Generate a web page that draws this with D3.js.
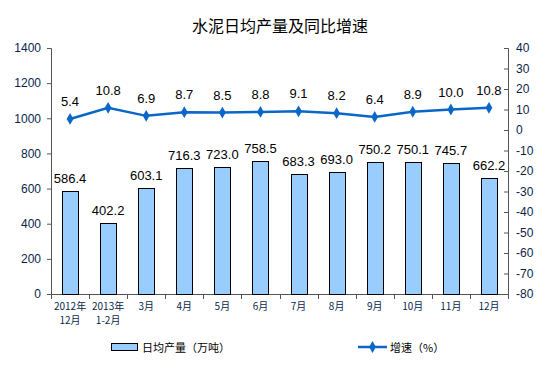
<!DOCTYPE html>
<html>
<head>
<meta charset="utf-8">
<script src="https://cdn.jsdelivr.net/npm/d3@7/dist/d3.min.js"></script>
<style>
  body { margin: 0; background: #fff; }
  text { font-family: "Liberation Sans", Arial, sans-serif; }
  .cjk { font-family: "Noto Sans CJK SC", sans-serif; }
</style>
</head>
<body>
<div id="chart"></div>
<script>
var months = [["2012年", "12月"], ["2013年", "1-2月"], ["3月"], ["4月"], ["5月"], ["6月"], ["7月"], ["8月"], ["9月"], ["10月"], ["11月"], ["12月"]];
var output = [586.4, 402.2, 603.1, 716.3, 723.0, 758.5, 683.3, 693.0, 750.2, 750.1, 745.7, 662.2];
var growth = [5.4, 10.8, 6.9, 8.7, 8.5, 8.8, 9.1, 8.2, 6.4, 8.9, 10.0, 10.8];
var leftTicks = [0, 200, 400, 600, 800, 1000, 1200, 1400];
var rightTicks = [40, 30, 20, 10, 0, -10, -20, -30, -40, -50, -60, -70, -80];

var width = 554, height = 383,
    pLeft = 51, pRight = 508, pTop = 48, pBottom = 294,
    axisColor = "#0a1f4c", lineColor = "#0a66c8";

var svg = d3.select("#chart").append("svg")
  .attr("width", width)
  .attr("height", height);

var x = d3.scaleBand().domain(d3.range(output.length)).range([pLeft, pRight]);
var y = d3.scaleLinear().domain([0, 1400]).range([pBottom, pTop]);
var y2 = d3.scaleLinear().domain([-80, 40]).range([pBottom, pTop]);

// title
svg.append("text")
  .attr("class", "cjk")
  .attr("x", 280).attr("y", 32)
  .attr("text-anchor", "middle")
  .attr("font-size", 16)
  .attr("fill", "#000")
  .text("水泥日均产量及同比增速");

// left axis
var gl = svg.append("g").attr("transform", "translate(" + pLeft + ",0)")
  .call(d3.axisLeft(y).tickValues(leftTicks).tickFormat(String).tickSize(4).tickPadding(6));
gl.selectAll("text").attr("font-size", 12).attr("fill", axisColor)
  .attr("font-family", "Liberation Sans, Arial, sans-serif");

// right axis
var gr = svg.append("g").attr("transform", "translate(" + pRight + ",0)")
  .call(d3.axisRight(y2).tickValues(rightTicks).tickFormat(String).tickSize(-4).tickPadding(8));
gr.selectAll("text").attr("font-size", 12).attr("fill", axisColor)
  .attr("font-family", "Liberation Sans, Arial, sans-serif");

svg.selectAll(".domain").attr("stroke", "#555");
svg.selectAll(".tick line").attr("stroke", "#555");

// x axis line and ticks
svg.append("line")
  .attr("x1", pLeft).attr("x2", pRight)
  .attr("y1", pBottom + 0.5).attr("y2", pBottom + 0.5)
  .attr("stroke", "#555");
svg.selectAll(".xtick")
  .data(d3.range(output.length + 1))
  .enter().append("line")
  .attr("x1", function(d) { return Math.round(pLeft + d * x.step()) + 0.5; })
  .attr("x2", function(d) { return Math.round(pLeft + d * x.step()) + 0.5; })
  .attr("y1", pBottom).attr("y2", pBottom + 5)
  .attr("stroke", "#555");

// x labels
var xl = svg.selectAll(".xlab")
  .data(months)
  .enter().append("text")
  .attr("class", "cjk")
  .attr("text-anchor", "middle")
  .attr("font-size", 10)
  .attr("fill", axisColor)
  .attr("x", function(d, i) { return x(i) + x.bandwidth() / 2; })
  .attr("y", 310);
xl.each(function(d) {
  var t = d3.select(this);
  d.forEach(function(s, k) {
    t.append("tspan")
      .attr("x", t.attr("x"))
      .attr("dy", k == 0 ? 0 : 14)
      .text(s);
  });
});

// bars
var barW = 16;
svg.selectAll(".bar")
  .data(output)
  .enter().append("rect")
  .attr("x", function(d, i) { return Math.round(x(i) + x.bandwidth() / 2 - barW / 2) + 0.5; })
  .attr("y", function(d) { return Math.round(y(d)) + 0.5; })
  .attr("width", barW)
  .attr("height", function(d) { return pBottom - Math.round(y(d)); })
  .attr("fill", "#99ccff")
  .attr("stroke", "#000")
  .attr("stroke-width", 1);

svg.selectAll(".barlab")
  .data(output)
  .enter().append("text")
  .attr("text-anchor", "middle")
  .attr("font-size", 13)
  .attr("fill", "#000")
  .attr("x", function(d, i) { return x(i) + x.bandwidth() / 2; })
  .attr("y", function(d) { return y(d) - 8; })
  .text(function(d) { return d.toFixed(1); });

// line
var line = d3.line()
  .x(function(d, i) { return x(i) + x.bandwidth() / 2; })
  .y(function(d) { return y2(d); });

svg.append("path")
  .datum(growth)
  .attr("d", line)
  .attr("fill", "none")
  .attr("stroke", lineColor)
  .attr("stroke-width", 2.5);

var diamond = d3.symbol().type(d3.symbolDiamond).size(40);
svg.selectAll(".pt")
  .data(growth)
  .enter().append("path")
  .attr("d", diamond)
  .attr("fill", lineColor)
  .attr("transform", function(d, i) {
    return "translate(" + (x(i) + x.bandwidth() / 2) + "," + y2(d) + ")";
  });

svg.selectAll(".ptlab")
  .data(growth)
  .enter().append("text")
  .attr("text-anchor", "middle")
  .attr("font-size", 13)
  .attr("fill", "#000")
  .attr("x", function(d, i) { return x(i) + x.bandwidth() / 2; })
  .attr("y", function(d) { return y2(d) - 13; })
  .text(function(d) { return d.toFixed(1); });

// legend
svg.append("rect")
  .attr("x", 111.5).attr("y", 343.5)
  .attr("width", 26).attr("height", 7)
  .attr("fill", "#99ccff").attr("stroke", "#000");
svg.append("text")
  .attr("class", "cjk")
  .attr("x", 142).attr("y", 351.5)
  .attr("font-size", 11)
  .attr("fill", "#000")
  .text("日均产量（万吨）");

svg.append("line")
  .attr("x1", 358).attr("x2", 387)
  .attr("y1", 347).attr("y2", 347)
  .attr("stroke", lineColor).attr("stroke-width", 2.5);
svg.append("path")
  .attr("d", diamond)
  .attr("fill", lineColor)
  .attr("transform", "translate(372.5,347)");
svg.append("text")
  .attr("class", "cjk")
  .attr("x", 390).attr("y", 351.5)
  .attr("font-size", 11)
  .attr("fill", "#000")
  .text("增速（%）");
</script>
</body>
</html>
